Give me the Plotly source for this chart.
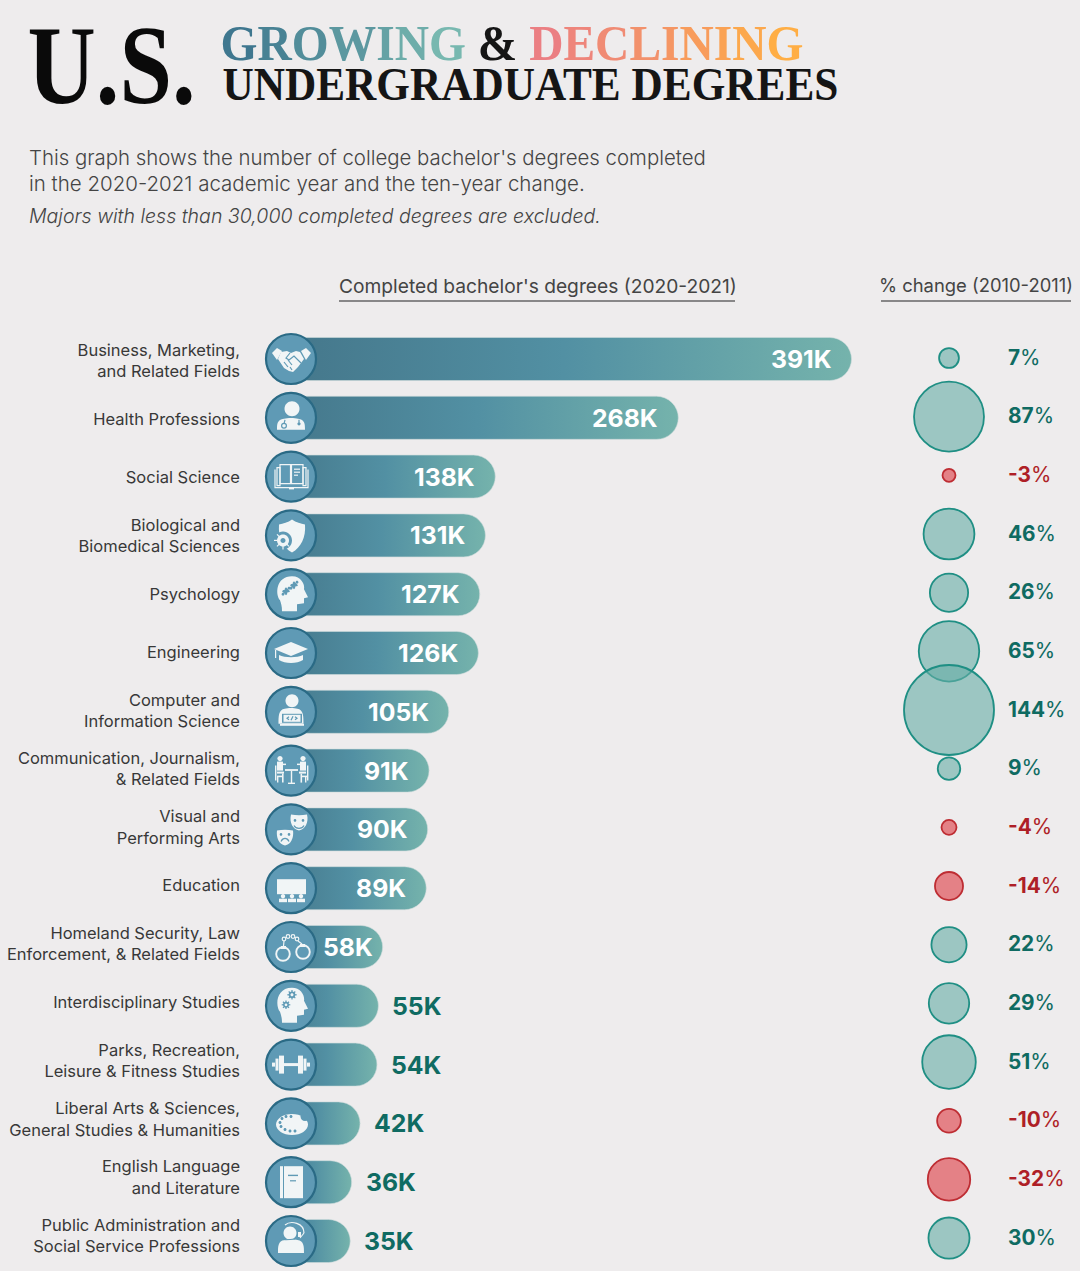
import plotly.graph_objects as go

# ---------- data ----------
LABELS = ["Business, Marketing,<br>and Related Fields", "Health Professions", "Social Science",
          "Biological and<br>Biomedical Sciences", "Psychology", "Engineering",
          "Computer and<br>Information Science", "Communication, Journalism,<br>& Related Fields",
          "Visual and<br>Performing Arts", "Education",
          "Homeland Security, Law<br>Enforcement, & Related Fields", "Interdisciplinary Studies",
          "Parks, Recreation,<br>Leisure & Fitness Studies", "Liberal Arts & Sciences,<br>General Studies & Humanities",
          "English Language<br>and Literature", "Public Administration and<br>Social Service Professions"]
COMPLETED_K = [391, 268, 138, 131, 127, 126, 105, 91, 90, 89, 58, 55, 54, 42, 36, 35]
CHANGE_PCT = [7, 87, -3, 46, 26, 65, 144, 9, -4, -14, 22, 29, 51, -10, -32, 30]

BG = "#EEECED"
W, H = 1080, 1271
px = lambda x: x / W
py = lambda y: 1 - y / H
KPX = 1.408
X0 = 301
ROW, TOP = 58.8, 359
ROW2, TOP2 = 58.67, 358
ROW3, TOP3 = 58.35, 360.5
BASE = -18   # bar starts hidden behind the icon disc
FONT = "Inter"
TEAL = "#0F6B62"
RED = "#AE1F27"


def lerp(a, b, t):
    a = [int(a[i:i + 2], 16) for i in (1, 3, 5)]
    b = [int(b[i:i + 2], 16) for i in (1, 3, 5)]
    return "#%02x%02x%02x" % tuple(round(p + (q - p) * t) for p, q in zip(a, b))


def grad_text(s, c0, c1):
    n = len(s) - 1
    return "".join(f'<span style="color:{lerp(c0, c1, i / n)}">{ch}</span>' for i, ch in enumerate(s))


fig = go.Figure()

# category labels live on their own axis (slightly tighter row pitch than the bars)
fig.add_trace(go.Scatter(x=COMPLETED_K, y=LABELS, mode="markers", xaxis="x", yaxis="y3", hoverinfo="skip",
                         marker=dict(opacity=0, size=1)))
# bars
fig.add_trace(go.Bar(x=[v - BASE for v in COMPLETED_K], y=LABELS, base=BASE, orientation="h",
                     width=0.732, xaxis="x", yaxis="y", hoverinfo="skip",
                     marker=dict(color="#5A95A3", cornerradius=21.5, line=dict(color="#CFDCDC", width=0.6))))
# icon discs
fig.add_trace(go.Scatter(x=["icon"] * len(LABELS), y=LABELS, mode="markers", xaxis="x3", yaxis="y",
                         cliponaxis=False, hoverinfo="skip",
                         marker=dict(size=50, color="#5F9AB5", line=dict(color="#2A6A85", width=2.2))))
# bubbles
max_d = 90
fig.add_trace(go.Scatter(x=["pct"] * len(LABELS), y=LABELS, mode="markers", xaxis="x2", yaxis="y2",
                         cliponaxis=False, hoverinfo="skip",
                         marker=dict(size=[abs(v) for v in CHANGE_PCT], sizemode="area", opacity=1,
                                     sizeref=2 * max(abs(v) for v in CHANGE_PCT) / max_d ** 2,
                                     color=["rgba(101,173,165,0.6)" if v > 0 else "rgba(222,72,78,0.65)" for v in CHANGE_PCT],
                                     line=dict(color=["#1F8F84" if v > 0 else "#BE2D33" for v in CHANGE_PCT], width=1.8))))

ann = []
# value labels
for lab, v in zip(LABELS, COMPLETED_K):
    inside = v >= 58
    gap = -8 if v == 58 else (-18 if inside else 12)
    ann.append(dict(x=v, y=lab, xref="x", yref="y", text=f"<b>{v}K</b>", showarrow=False,
                    xanchor="right" if inside else "left", xshift=gap, yshift=0,
                    font=dict(family=FONT, size=24.8, color="white" if inside else TEAL)))
# pct labels
for lab, v in zip(LABELS, CHANGE_PCT):
    ann.append(dict(x="pct", y=lab, xref="x2", yref="y2", showarrow=False, text=f"<b>{v}</b>%",
                    xanchor="left", xshift=57, yshift=1,
                    font=dict(family=FONT, size=20.8, color=TEAL if v > 0 else RED)))


def free(text, x, y, size, color="#3A3A3A", family=FONT, anchor="left", weight=None, **kw):
    font = dict(family=family, size=size, color=color)
    if weight:
        font["weight"] = weight
    ann.append(dict(x=px(x), y=py(y), xref="paper", yref="paper", text=text, showarrow=False,
                    xanchor=anchor, yanchor="middle", align=anchor, font=font, **kw))


SERIF = "Liberation Serif"
free("U.S.", 111.5, 65, 112, color="#0A0A0A", family=SERIF, anchor="center", weight=700)
free(grad_text("GROWING", "#3F778F", "#78B8B0") + ' <span style="color:#151515">&</span> '
     + grad_text("DECLINING", "#EB7F83", "#FFAE45"), 512, 43.5, 50, family=SERIF, anchor="center", weight=700)
free("UNDERGRADUATE DEGREES", 530.5, 84.5, 46, color="#151515", family=SERIF, anchor="center", weight=700)
free("This graph shows the number of college bachelor's degrees completed", 27, 158, 20.4, color="#444444", weight=300)
free("in the 2020-2021 academic year and the ten-year change.", 27, 183, 20.5, color="#444444", weight=300)
free("<i>Majors with less than 30,000 completed degrees are excluded.</i>", 27, 216, 19.55, color="#444444", weight=300)
free("Completed bachelor's degrees (2020-2021)", 337, 286, 19.2, color="#444444")
free("% change (2010-2011)", 877, 285, 18.4, color="#444444")

shapes = [
    dict(type="line", xref="paper", yref="paper", x0=px(339), x1=px(735), y0=py(301), y1=py(301),
         line=dict(color="#666666", width=1.6)),
    dict(type="line", xref="paper", yref="paper", x0=px(881), x1=px(1071), y0=py(301), y1=py(301),
         line=dict(color="#666666", width=1.6)),
]

# ---------- icon glyphs, in pixels around the disc centre (y down) ----------
WH, BL = "#F1F5F6", "#5F9AB5"


def P(pt):
    return f"{pt[0]:.2f},{-pt[1]:.2f}"


def poly(*pts):
    return "M" + " L".join(P(p) for p in pts) + " Z"


def pline(*pts):
    return "M" + " L".join(P(p) for p in pts)


def curve(start, *segs):
    return "M" + P(start) + "".join(" C" + " ".join(P(q) for q in s) for s in segs)


def circ(cx, cy, r, ry=None):
    ry = ry or r
    k = 0.5523
    return curve((cx - r, cy),
                 ((cx - r, cy - k * ry), (cx - k * r, cy - ry), (cx, cy - ry)),
                 ((cx + k * r, cy - ry), (cx + r, cy - k * ry), (cx + r, cy)),
                 ((cx + r, cy + k * ry), (cx + k * r, cy + ry), (cx, cy + ry)),
                 ((cx - k * r, cy + ry), (cx - r, cy + k * ry), (cx - r, cy))) + " Z"


def rect(x, y, w, h):
    return poly((x, y), (x + w, y), (x + w, y + h), (x, y + h))


def head():
    return (curve((-9, 17), ((-9, 12), (-10, 9), (-11, 6)), ((-16, 0), (-15, -18), (1, -18)), ((10, -18), (14, -10), (13, -5)))
            + " L" + P((17, 3)) + " L" + P((13, 4)) + " L" + P((13, 9)) + " L" + P((6, 10)) + " L" + P((6, 17)) + " Z")


def bust(cy, hw, h):
    return curve((-hw, cy + h), ((-hw, cy + h / 2), (-hw, cy + 1), (-hw / 2, cy)), ((-hw / 4, cy - 1), (hw / 4, cy - 1), (hw / 2, cy)),
                 ((hw, cy + 1), (hw, cy + h / 2), (hw, cy + h))) + " Z"


def gear(cx, cy, r):
    c = r + 1.3
    d = c * 0.7
    teeth = [((cx - c, cy), (cx + c, cy)), ((cx, cy - c), (cx, cy + c)),
             ((cx - d, cy - d), (cx + d, cy + d)), ((cx - d, cy + d), (cx + d, cy - d))]
    return [("s", BL, pline(*t)) for t in teeth] + [("f", BL, circ(cx, cy, r)), ("f", WH, circ(cx, cy, r * 0.45))]


def puzzle(cx, cy, r):
    return [("f", BL, poly((cx - r, cy), (cx, cy - r), (cx + r, cy), (cx, cy + r))),
            ("f", BL, circ(cx + r * 0.75, cy - r * 0.75, r * 0.36)), ("f", BL, circ(cx - r * 0.75, cy + r * 0.75, r * 0.36)),
            ("f", WH, circ(cx - r * 0.55, cy - r * 0.55, r * 0.26)), ("f", WH, circ(cx + r * 0.55, cy + r * 0.55, r * 0.26))]


def mask(cx, cy):
    return curve((cx - 8, cy - 7), ((cx - 3, cy - 6), (cx + 3, cy - 6), (cx + 8, cy - 7)),
                 ((cx + 10, cy + 1), (cx + 6, cy + 8), (cx, cy + 9)), ((cx - 6, cy + 8), (cx - 10, cy + 1), (cx - 8, cy - 7))) + " Z"


ICONS = [
    # handshake
    [("f", WH, poly((-19, -6), (-14, -11), (-9, -8), (-14, 1))), ("f", WH, poly((20, -6), (15, -11), (10, -8), (15, 1))),
     ("f", WH, poly((-10, -7), (-4, -8), (0, -6), (5, -8), (9, -7), (13, 0), (7, 8), (2, 13), (-2, 12), (-7, 9), (-13, 0))),
     ("s", BL, pline((-1, -6), (-5, -1), (-2, 1), (3, -3), (10, 4))), ("s", BL, pline((-7, 3), (-3, 8))),
     ("s", BL, pline((-3, 1), (1, 6))), ("s", BL, pline((-1, 8), (1, 11)))],
    # doctor
    [("f", WH, circ(1, -9, 7.5)), ("f", WH, bust(1, 14, 11)),
     ("s", BL, pline((-6, 2), (-7, 6))), ("s", BL, circ(-7, 8, 2.4)), ("s", BL, pline((8, 2), (8, 5))), ("f", BL, circ(8, 6, 1.6))],
    # book
    [("s", WH, rect(-11, -12, 10.5, 19)), ("s", WH, rect(0.5, -12, 11.5, 19)), ("s", WH, rect(-14, -9, 3, 18)), ("s", WH, rect(12, -9, 3, 18)),
     ("s", WH, pline((-16, -7), (-16, 11), (17, 11), (17, -7))),
     ("f", WH, rect(-2, 11, 5, 1.8)), ("f", WH, rect(3, -8, 6, 1.2)), ("f", WH, rect(3, -5, 6, 1.2)), ("f", WH, rect(3, -2, 4, 1.2))],
    # shield with virus
    [("f", WH, curve((1, -16), ((5, -13), (10, -12), (14, -11)), ((15, 2), (10, 12), (1, 17)), ((-8, 12), (-13, 2), (-12, -11)), ((-8, -12), (-3, -13), (1, -16))) + " Z"),
     ("f", BL, circ(-8, 5, 9)), ("f", WH, circ(-8, 5, 6)), ("f", BL, circ(-8, 5, 2.5)),
     ("s", WH, pline((-17, 5), (-13, 5))), ("s", WH, pline((-8, 14), (-8, 10))), ("s", WH, pline((-14, -1), (-11, 2))),
     ("s", WH, pline((-14, 11), (-11, 8))), ("s", WH, pline((-2, 11), (-5, 8)))],
    # head with puzzle
    [("f", WH, head())] + puzzle(-5, -3, 4) + puzzle(3, -9, 4),
    # graduation cap
    [("f", WH, poly((-17, -4), (0, -11), (17, -4), (0, 3))), ("f", WH, rect(-16, -3, 1.2, 8)),
     ("f", WH, curve((-12, 2), ((-6, 5), (6, 5), (12, 2))) + " L" + P((12, 7)) + " C" + P((6, 11)) + " " + P((-6, 11)) + " " + P((-12, 7)) + " Z")],
    # coder
    [("f", WH, circ(1, -11, 6.5)), ("f", WH, bust(-3, 12.5, 15)), ("f", BL, rect(-9, 2, 20, 9)), ("f", WH, rect(-7.5, 3, 17, 7)),
     ("s", BL, pline((-2, 5), (-4, 6.5), (-2, 8))), ("s", BL, pline((4, 5), (6, 6.5), (4, 8))), ("s", BL, pline((2, 4.5), (0, 8.5))),
     ("f", WH, rect(-11, 12, 24, 2))],
    # two people at a table
    [("f", WH, circ(-11, -12, 2.6)), ("f", WH, circ(12, -12, 2.6)), ("f", WH, rect(-14, -9, 6, 9)), ("f", WH, rect(9, -9, 6, 9)),
     ("f", WH, rect(-8, -7, 3, 1.5)), ("f", WH, rect(6, -7, 3, 1.5)),
     ("f", WH, rect(-6, -1.5, 13, 1.8)), ("f", WH, rect(-0.2, 0, 1.4, 13)), ("f", WH, rect(-3, 12, 7, 1.4)),
     ("f", WH, rect(-16, -5, 1.4, 15)), ("f", WH, rect(16, -5, 1.4, 15)),
     ("f", WH, rect(-14, 1, 7, 2)), ("f", WH, rect(8, 1, 7, 2)), ("f", WH, rect(-9, 3, 1.6, 9)), ("f", WH, rect(9.5, 3, 1.6, 9)),
     ("f", WH, rect(-14, 5, 5, 1.6)), ("f", WH, rect(11, 5, 5, 1.6)), ("f", WH, rect(-14, 6, 1.4, 6)), ("f", WH, rect(14, 6, 1.4, 6))],
    # theatre masks
    [("f", WH, mask(8, -8)), ("f", BL, circ(4, -9, 1.3)), ("f", BL, circ(12, -9, 1.3)), ("s", BL, curve((3, -4), ((5, 0), (11, 0), (13, -4)))),
     ("f", BL, mask(-6, 7)), ("f", WH, curve((-14, 1), ((-9, 0), (-3, 0), (2, 1)), ((3, 8), (0, 15), (-6, 16)), ((-12, 15), (-15, 8), (-14, 1))) + " Z"),
     ("f", BL, circ(-10, 5, 1.3)), ("f", BL, circ(-2, 5, 1.3)), ("s", BL, curve((-10, 12), ((-8, 8), (-4, 8), (-2, 12))))],
    # lecture hall
    [("f", WH, rect(-14, -9, 29, 15)), ("f", WH, circ(-8, 8, 2.2)), ("f", WH, circ(1, 8, 2.2)), ("f", WH, circ(10, 8, 2.2)),
     ("f", WH, rect(-12, 10.5, 8, 3.5)), ("f", WH, rect(-3, 10.5, 8, 3.5)), ("f", WH, rect(6, 10.5, 8, 3.5))],
    # handcuffs
    [("s2", WH, circ(-8, 7, 6.8)), ("s2", WH, circ(12, 5, 6.8)),
     ("f", WH, rect(-10, -1, 5, 3)), ("f", WH, rect(9, -3, 5, 3)),
     ("s", WH, circ(-7, -8, 1.8)), ("s", WH, circ(-3, -10.5, 1.8)), ("s", WH, circ(2, -10.5, 1.8)), ("s", WH, circ(6, -8, 1.8)),
     ("s", WH, pline((-7, -6), (-7.5, -1))), ("s", WH, pline((7, -6), (11, -3)))],
    # head with gears
    [("f", WH, head())] + gear(1, -11, 3.4) + gear(-5, -1, 3),
    # dumbbell
    [("f", WH, rect(-19, -2, 3, 4)), ("f", WH, rect(-15.5, -6, 3, 12)), ("f", WH, rect(-12, -9, 5, 18)), ("f", WH, rect(-7, -1.5, 14, 3)),
     ("f", WH, rect(7, -9, 5, 18)), ("f", WH, rect(12.5, -6, 3, 12)), ("f", WH, rect(16, -2, 3, 4))],
    # palette
    [("f", WH, circ(1, 1, 16, 10.5)), ("f", BL, circ(14, -7, 4.5)),
     ("f", BL, circ(-11, -1, 1.5)), ("f", BL, circ(-9, -5, 1.5)), ("f", BL, circ(-5, -7, 1.5)), ("f", BL, circ(0, -7, 1.5)),
     ("f", BL, circ(-10, 3, 1.5)), ("f", BL, circ(-6, 6, 1.5)), ("f", BL, circ(-1, 7.5, 1.5)), ("f", BL, circ(4, 7.5, 1.5))],
    # notebook
    [("f", WH, rect(-11, -16, 3, 32)), ("f", WH, rect(-7, -16, 19, 32)), ("f", BL, rect(-3, -7.5, 10, 1.4)), ("f", BL, rect(-1, -2, 6, 1.2))],
    # headset agent
    [("f", WH, circ(-1, -8, 6.5)), ("f", WH, bust(-1, 13, 13)), ("s", BL, curve((-12, -2), ((-8, -1), (-3, -1), (4, -2)))),
     ("s", WH, curve((-6, -16), ((0, -21), (13, -18), (13, -8)))), ("s", WH, pline((13, -8), (9, -3))), ("f", WH, rect(7, -9, 3, 5))],
]

for i, icon in enumerate(ICONS):
    for kind, col, path in icon:
        s = dict(type="path", xref="x3", yref="y", xsizemode="pixel", ysizemode="pixel", xanchor=0, yanchor=i,
                 path=path, layer="above")
        if kind == "f":
            s.update(fillcolor=col, line=dict(width=0))
        else:
            s.update(fillcolor="rgba(0,0,0,0)", line=dict(color=col, width=1.9 if kind == "s2" else 1.2))
        shapes.append(s)

hidden = dict(visible=False, showgrid=False, zeroline=False, fixedrange=True)
bar_left, bar_right = 250, 870
fig.update_layout(
    width=W, height=H, margin=dict(l=0, r=0, t=0, b=0), paper_bgcolor=BG, plot_bgcolor="rgba(0,0,0,0)",
    showlegend=False, bargap=0, autosize=False, annotations=ann, shapes=shapes,
    font=dict(family=FONT),
    xaxis=dict(hidden, domain=[px(bar_left), px(bar_right)],
               range=[(bar_left - X0) / KPX, (bar_right - X0) / KPX], anchor="y"),
    xaxis2=dict(hidden, type="category", domain=[px(899), px(999)], range=[-0.5, 0.5], anchor="y2"),
    xaxis3=dict(hidden, type="category", domain=[px(265), px(317)], range=[-0.5, 0.5], anchor="y"),
    yaxis=dict(hidden, type="category", categoryorder="array", categoryarray=LABELS, domain=[0, 1],
               range=[(H - TOP) / ROW, -TOP / ROW], anchor="x"),
    yaxis2=dict(hidden, type="category", categoryorder="array", categoryarray=LABELS, domain=[0, 1],
                range=[(H - TOP2) / ROW2, -TOP2 / ROW2], anchor="x2"),
    yaxis3=dict(type="category", categoryorder="array", categoryarray=LABELS, domain=[0, 1],
                range=[(H - TOP3) / ROW3, -TOP3 / ROW3], anchor="x", showgrid=False, zeroline=False, showline=False,
                ticks="", ticklabelstandoff=9, fixedrange=True, tickfont=dict(family=FONT, size=16.5, color="#383838")),
)

POST = r"""
document.documentElement.style.margin = '0';
document.body.style.margin = '0';
document.body.style.background = '#EEECED';
var gd = document.getElementById('{plot_id}');
var svg = gd.querySelector('svg.main-svg');
var NS = 'http://www.w3.org/2000/svg';
var defs = svg.querySelector('defs') || svg.insertBefore(document.createElementNS(NS, 'defs'), svg.firstChild);
var g = document.createElementNS(NS, 'linearGradient');
g.setAttribute('id', 'barGrad');
[[0, '#44768A'], [0.5, '#5290A3'], [1, '#75B3AC']].forEach(function (s) {
  var st = document.createElementNS(NS, 'stop');
  st.setAttribute('offset', s[0]); st.setAttribute('stop-color', s[1]); g.appendChild(st);
});
defs.appendChild(g);
gd.querySelectorAll('.barlayer .point path').forEach(function (p) { p.style.fill = 'url(#barGrad)'; });
var fit = {'U.S.': 168, 'GROWING & DECLINING': 583, 'UNDERGRADUATE DEGREES': 616};
gd.querySelectorAll('.annotation-text').forEach(function (t) {
  var w = fit[t.textContent];
  if (w) { t.setAttribute('textLength', w); t.setAttribute('lengthAdjust', 'spacingAndGlyphs'); }
});
gd.querySelectorAll('.ytick text tspan.line').forEach(function (t) {
  if (t.getAttribute('dy')) { t.setAttribute('dy', '1.19em'); }
});
"""

fig.write_html("out.html", post_script=POST, config=dict(displayModeBar=False, staticPlot=True))
